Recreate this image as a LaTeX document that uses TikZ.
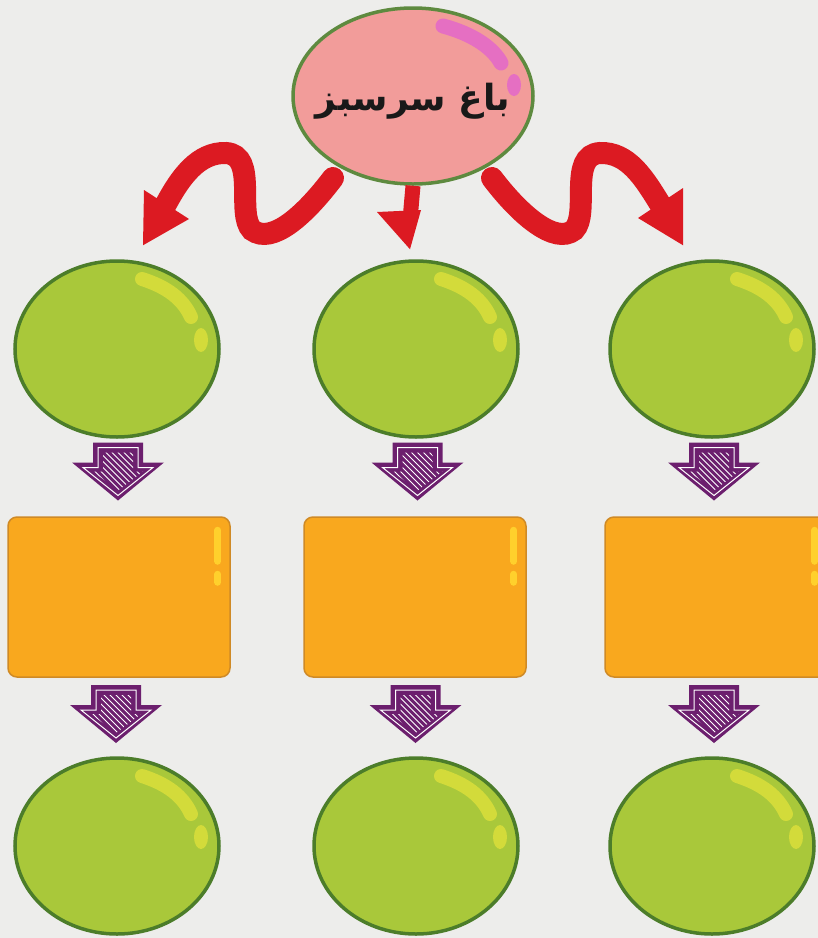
\documentclass[tikz,border=0pt]{standalone}
\usepackage{fontspec}
\TeXXeTstate=1
\newfontfamily\arabicfont[Script=Arabic]{DejaVu Sans}
\usetikzlibrary{shapes.geometric,calc}
\definecolor{bgc}{HTML}{EDEDEB}
\definecolor{ballfill}{HTML}{A9C83A}
\definecolor{balledge}{HTML}{4C7D2A}
\definecolor{ballhl}{HTML}{D3DB3A}
\definecolor{pinkfill}{HTML}{F29C9A}
\definecolor{pinkhl}{HTML}{E56FC2}
\definecolor{boxfill}{HTML}{F9A81E}
\definecolor{boxedge}{HTML}{CF8A26}
\definecolor{boxhl}{HTML}{FFD02C}
\definecolor{purp}{HTML}{6C1F6E}
\definecolor{redarr}{HTML}{DC1A22}
\tikzset{
  ball/.style={ellipse, draw=balledge, line width=3.5pt, fill=ballfill,
    minimum width=204pt, minimum height=176pt, inner sep=0pt},
  topball/.style={ellipse, draw=balledge!90!white, line width=3.5pt, fill=pinkfill,
    minimum width=240pt, minimum height=176pt, inner sep=0pt},
  orangebox/.style={rectangle, rounded corners=9pt, draw=boxedge, line width=1.5pt,
    fill=boxfill, minimum width=222pt, minimum height=160pt, inner sep=0pt},
  redband/.style={draw=redarr, line width=22pt, line cap=round},
  pics/blockarrow/.style={code={
    \fill[purp] (-25,0) -- (25,0) -- (25,20) -- (46,20) -- (0,58) -- (-46,20) -- (-25,20) -- cycle;
    \draw[white, line width=1pt] (-20,5) -- (20,5) -- (20,25) -- (35,25) -- (0,53) -- (-35,25) -- (-20,25) -- cycle;
    \begin{scope}
      \clip (-15,10) -- (15,10) -- (15,29) -- (25,29) -- (0,48) -- (-25,29) -- (-15,29) -- cycle;
      \foreach \i in {-70,-64,...,40} \draw[white, line width=0.9pt] ({\i},0) -- ({\i+60},60);
    \end{scope}
  }},
}
\newcommand{\ballshine}[1]{%
  \draw[ballhl, line width=14pt, line cap=round] ($(#1.center)+(25,-70)$) .. controls ($(#1.center)+(50,-62)$) and ($(#1.center)+(66,-50)$) .. ($(#1.center)+(74,-32)$);
  \fill[ballhl] ($(#1.center)+(84,-9)$) ellipse [x radius=7pt, y radius=12pt];
}
\newcommand{\boxshine}[1]{%
  \draw[boxhl, line width=7pt, line cap=round] ($(#1.north east)+(-13,14)$) -- ($(#1.north east)+(-13,45)$);
  \draw[boxhl, line width=7pt, line cap=round] ($(#1.north east)+(-13,58)$) -- ($(#1.north east)+(-13,66)$);
}
\begin{document}
\begin{tikzpicture}[x=1pt,y=-1pt]
\useasboundingbox (0,0) rectangle (818,938);
\fill[bgc] (0,0) rectangle (818,938);

% top ellipse
\node[topball] (top) at (413,96) {};
\draw[pinkhl, line width=15pt, line cap=round] ($(top.center)+(30,-70)$) .. controls ($(top.center)+(60,-62)$) and ($(top.center)+(80,-48)$) .. ($(top.center)+(88,-33)$);
\fill[pinkhl] ($(top.center)+(101,-11)$) ellipse [x radius=7pt, y radius=11pt];
\node[font=\arabicfont\bfseries\fontsize{36}{44}\selectfont, text=black!90] (title) at ($(top.center)+(0,5)$) {\beginR باغ سرسبز\endR};

% green balls, row 1
\node[ball] (g1) at (117,349) {};
\node[ball] (g2) at (416,349) {};
\node[ball] (g3) at (712,349) {};
% orange boxes
\node[orangebox] (r1) at (119,597) {};
\node[orangebox] (r2) at (415,597) {};
\node[orangebox] (r3) at (716,597) {};
% green balls, row 3
\node[ball] (h1) at (117,846) {};
\node[ball] (h2) at (416,846) {};
\node[ball] (h3) at (712,846) {};

\foreach \n in {g1,g2,g3,h1,h2,h3} {\ballshine{\n}}
\foreach \n in {r1,r2,r3} {\boxshine{\n}}

% purple block arrows
\pic at ($(g1.south)!0.5!(r1.north)+(0,-35)$) {blockarrow};
\pic at ($(g2.south)!0.5!(r2.north)+(2,-35)$) {blockarrow};
\pic at ($(g3.south)!0.5!(r3.north)+(0,-35)$) {blockarrow};
\pic at ($(r1.south)!0.5!(h1.north)+(-2,-32)$) {blockarrow};
\pic at ($(r2.south)!0.5!(h2.north)+(0,-32)$) {blockarrow};
\pic at ($(r3.south)!0.5!(h3.north)+(0,-32)$) {blockarrow};

% red wavy arrows
\coordinate (lt) at ($(top.center)+(-80,82)$);
\coordinate (rt) at ($(top.center)+(79,82)$);
\draw[redband] (lt) .. controls (305,215) and (272,245) .. (252,230)
  .. controls (236,214) and (258,155) .. (226,153)
  .. controls (198,152) and (180,178) .. (166,204);
\fill[redarr] ($(g1.north)+(26,-14)$) -- (144,190) -- (189,219) -- cycle;

\draw[redband] (rt) .. controls (520,215) and (555,245) .. (574,230)
  .. controls (590,214) and (568,155) .. (600,153)
  .. controls (628,152) and (644,178) .. (660,204);
\fill[redarr] ($(g3.north)+(-29,-14)$) -- (638,218) -- (683,188) -- cycle;

\draw[draw=redarr, line width=15pt] (top.south) -- (410,220);
\fill[redarr] ($(g2.north)+(-6,-10)$) -- (377,212) -- (421,210) -- cycle;
\end{tikzpicture}
\end{document}
